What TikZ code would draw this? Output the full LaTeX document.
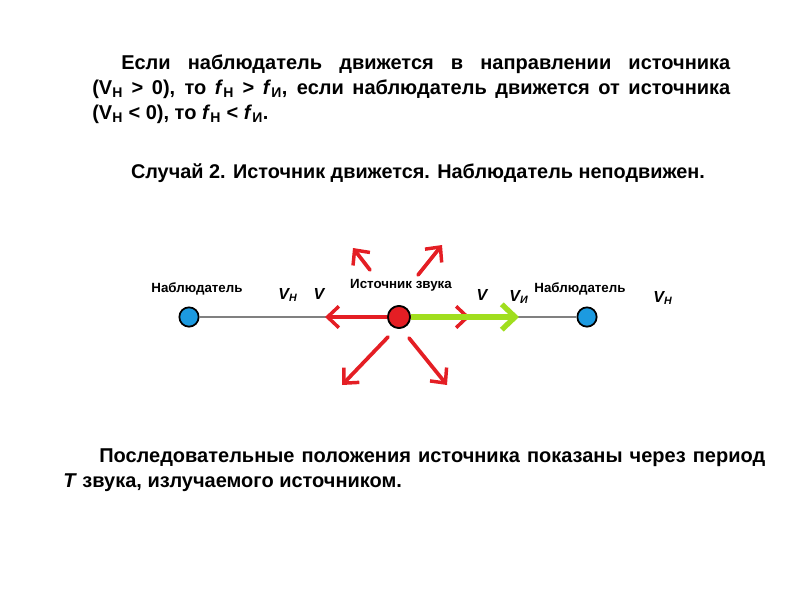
\documentclass[tikz,border=0pt]{standalone}
\usepackage{fontspec}
\setmainfont{Liberation Sans}
\usetikzlibrary{arrows.meta}
\definecolor{wavered}{RGB}{228,30,36}
\definecolor{srcgreen}{RGB}{160,222,30}
\definecolor{obsblue}{RGB}{28,154,224}
\tikzset{
  para/.style={inner sep=0pt,align=justify,font=\bfseries\fontsize{15}{18.75}\selectfont},
  label/.style={inner sep=0pt,font=\bfseries\fontsize{10}{12}\selectfont},
  speed/.style={inner sep=0pt,font=\bfseries\itshape\fontsize{12}{14}\selectfont},
  wave/.style={wavered,line width=2.8pt,line cap=round,-{Straight Barb[length=8.5pt,width=16pt,line width=2.6pt]}},
  dot/.style={circle,draw=black,line width=1.3pt,minimum size=14.5pt,inner sep=0pt}
}
\begin{document}
\begin{tikzpicture}[x=0.75pt,y=-0.75pt]
  \useasboundingbox (0,0) rectangle (800,600);
  % text
  \node[para,text width=478.5pt,anchor=base west] (top) at (92,69) {\hspace*{21.75pt}Если наблюдатель движется в направлении источника\linebreak
    (V\textsubscript{Н} > 0), то \textit{f}\textsubscript{Н} > \textit{f}\textsubscript{И}, если наблюдатель движется от источника\linebreak
    (V\textsubscript{Н} < 0), то \textit{f}\textsubscript{Н} < \textit{f}\textsubscript{И}.};
  \node[inner sep=0pt,font=\bfseries\fontsize{14.9}{18}\selectfont,anchor=base] (case) at (418,178) {Случай 2. Источник движется. Наблюдатель неподвижен.};
  \node[para,text width=526.5pt,anchor=base west] (bottom) at (63,462) {\hspace*{27pt}Последовательные положения источника показаны через период\linebreak
    \textit{T} звука, излучаемого источником.};
  % observers and source
  \node[dot,fill=obsblue] (obsL) at (189,317) {};
  \node[dot,fill=obsblue] (obsR) at (587,317) {};
  \draw[gray,line width=1pt] (obsL) -- (obsR);
  \node[dot,fill=wavered,minimum size=16.5pt] (src) at (399,317) {};
  % waves
  \coordinate (wL) at (325,317);
  \coordinate (wR) at (470,317);
  \draw[wave] (src) -- (wL);
  \draw[wave] (src) -- (wR);
  \foreach \n/\a/\b/\c/\d in {1/370/270/353/248,2/418/275/442/245,3/388/337/342/385,4/409/338/447/385}{
    \coordinate (t\n) at (\a,\b);
    \coordinate (h\n) at (\c,\d);
    \draw[wave] (t\n) -- (h\n);
  }
  % source velocity
  \coordinate (vS) at (519,317);
  \draw[srcgreen,line width=5.2pt,-{Straight Barb[length=10pt,width=19pt,line width=4pt]}] (src) -- (vS);
  \node[dot,fill=wavered,minimum size=16.5pt] at (src) {};
  % labels
  \node[label,anchor=base] (lobsL) at (197,292) {Наблюдатель};
  \node[label,anchor=base] (lsrc) at (401,288) {Источник звука};
  \node[label,anchor=base] (lobsR) at (580,292) {Наблюдатель};
  \node[speed,anchor=base] (vH1) at (288,299) {V\textsubscript{Н}};
  \node[speed,anchor=base] (v1) at (319,299) {V};
  \node[speed,anchor=base] (v2) at (482,300) {V};
  \node[speed,anchor=base] (vI) at (519,301) {V\textsubscript{И}};
  \node[speed,anchor=base] (vH2) at (663,302) {V\textsubscript{Н}};
\end{tikzpicture}
\end{document}
